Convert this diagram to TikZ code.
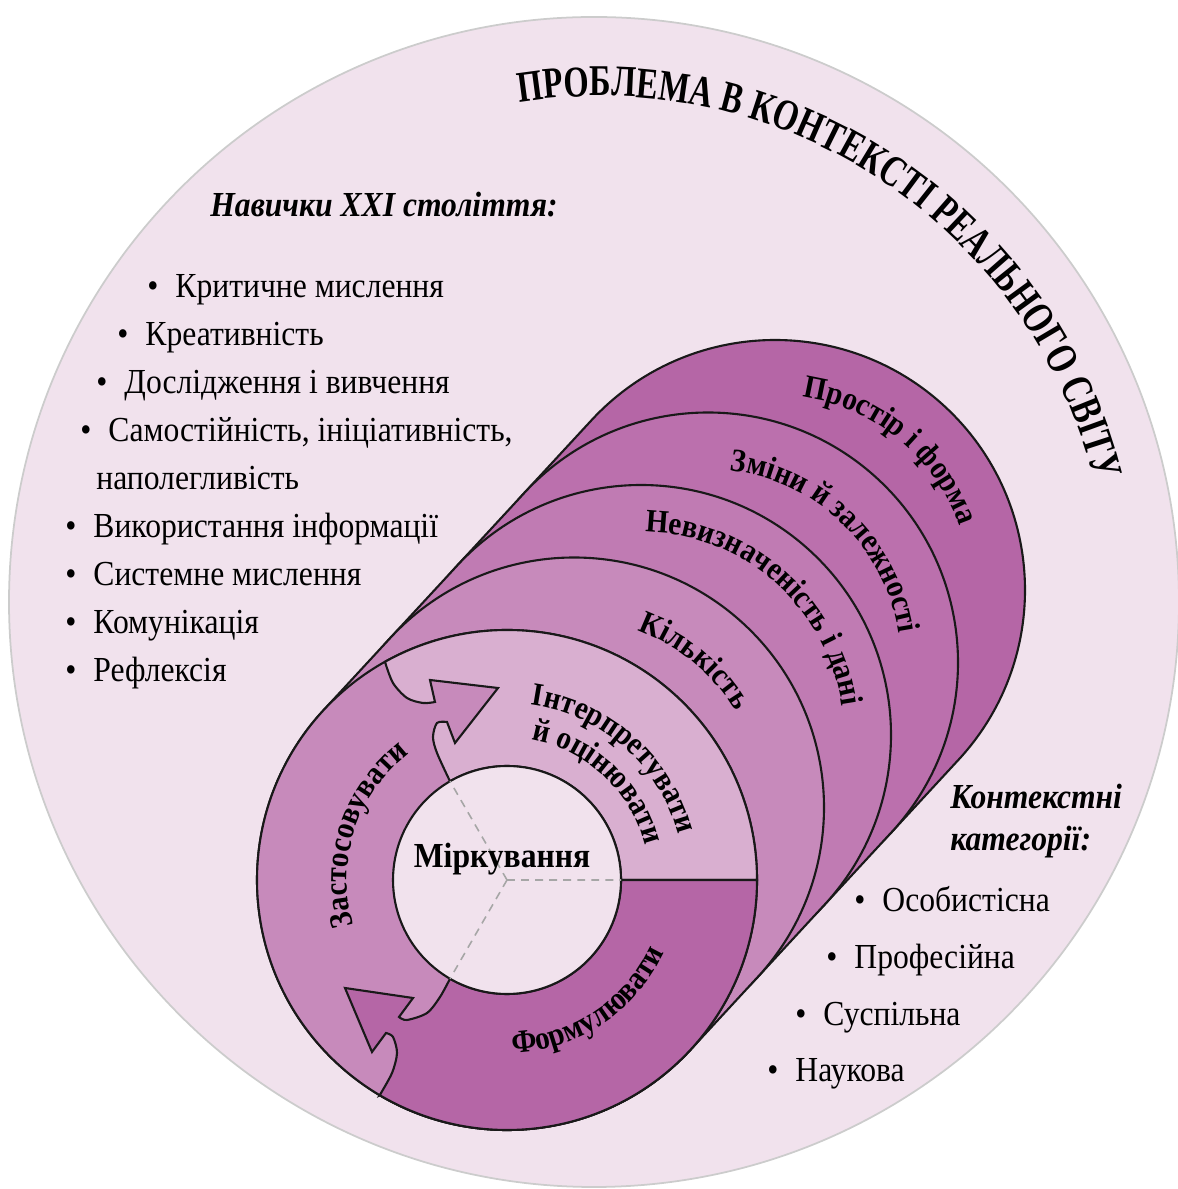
\documentclass[tikz,border=0pt]{standalone}
\usepackage{fontspec}
\setmainfont{Liberation Serif}[FakeStretch=0.9]
\newfontfamily\titlefont{Liberation Serif}[FakeStretch=0.74]
\usetikzlibrary{positioning, decorations.text, calc}

\definecolor{bgpink}{HTML}{F1E2ED}
\definecolor{interp}{HTML}{D9AFD0}
\definecolor{apply}{HTML}{C78ABB}
\definecolor{nevyzn}{HTML}{C07BB3}
\definecolor{zminy}{HTML}{BB70AD}
\definecolor{prostir}{HTML}{B566A6}

\newcommand{\labfont}{\fontsize{18.5}{18.5}\selectfont\bfseries}
\newcommand{\bulletmark}{\makebox[0.8em][l]{\textbullet}}

\tikzset{
    ring/.style={draw=black!90, line width=1.2pt}, % outline of every disc
    skill/.style={anchor=base west, inner sep=0pt, font=\fontsize{20}{24}\selectfont}, % list entries
    heading/.style={anchor=base west, inner sep=0pt, font=\fontsize{20}{24}\selectfont\bfseries\itshape}, % list titles
    curved/.style={decorate, decoration={text along path, text align=center, text={#1}}}, % text set along an arc
}

\begin{document}
\begin{tikzpicture}[x=0.02cm, y=0.02cm]
\useasboundingbox (0,0) rectangle (1177,1189);
% the real world
\filldraw[fill=bgpink, draw=black!20, line width=1pt] (594,587) circle[radius=585];
\coordinate (w) at (600,583);
\path[curved={|\titlefont\bfseries\fontsize{25}{25}\selectfont|ПРОБЛЕМА В КОНТЕКСТІ РЕАЛЬНОГО СВІТУ}]
    ($(w)+(110.6:510)$) arc[start angle=110.6, end angle=2.6, radius=510];

% skills
\node[heading] (skills) at (210,972) {Навички XXI століття:};
\node[skill] (s1) at (147,891) {\bulletmark Критичне мислення};
\node[skill] (s2) at (117,843) {\bulletmark Креативність};
\node[skill] (s3) at (96,795) {\bulletmark Дослідження і вивчення};
\node[skill] (s4) at (80,747) {\bulletmark Самостійність, ініціативність,};
\node[skill] (s4b) at (96,699) {наполегливість};
\node[skill] (s5) at (65,651) {\bulletmark Використання інформації};
\node[skill] (s6) at (65,603) {\bulletmark Системне мислення};
\node[skill] (s7) at (65,555) {\bulletmark Комунікація};
\node[skill] (s8) at (65,507) {\bulletmark Рефлексія};

% context categories
\node[heading] (ctx) at (950,380) {Контекстні};
\node[heading] (ctxb) at (950,338) {категорії:};
\node[skill] (k1) at (854,277) {\bulletmark Особистісна};
\node[skill] (k2) at (826,220) {\bulletmark Професійна};
\node[skill] (k3) at (795,163) {\bulletmark Суспільна};
\node[skill] (k4) at (767,107) {\bulletmark Наукова};

% content layers, back to front
\coordinate (c0) at (507,309);
\coordinate (c1) at (574,381.5);
\coordinate (c2) at (641,454);
\coordinate (c3) at (708,526.5);
\coordinate (c4) at (775,599);
\filldraw[ring, fill=prostir] ($(c4)+(137.26:250)$) arc[start angle=137.26, end angle=-42.74, radius=250]
    -- ($(c3)+(-42.74:250)$) arc[start angle=-42.74, end angle=-222.74, radius=250] -- cycle;
\filldraw[ring, fill=zminy] ($(c3)+(137.26:250)$) arc[start angle=137.26, end angle=-42.74, radius=250]
    -- ($(c2)+(-42.74:250)$) arc[start angle=-42.74, end angle=-222.74, radius=250] -- cycle;
\filldraw[ring, fill=nevyzn] ($(c2)+(137.26:250)$) arc[start angle=137.26, end angle=-42.74, radius=250]
    -- ($(c1)+(-42.74:250)$) arc[start angle=-42.74, end angle=-222.74, radius=250] -- cycle;
\filldraw[ring, fill=apply] ($(c1)+(137.26:250)$) arc[start angle=137.26, end angle=-42.74, radius=250]
    -- ($(c0)+(-42.74:250)$) arc[start angle=-42.74, end angle=-222.74, radius=250] -- cycle;
\path[curved={|\labfont|Простір і форма}] ($(c4)+(120:195)$) arc[start angle=120, end angle=-19, radius=195];
\path[curved={|\labfont|Зміни й залежності}] ($(c3)+(126:193)$) arc[start angle=126, end angle=-34, radius=193];
\path[curved={|\labfont|Невизначеність і дані}] ($(c2)+(138:203)$) arc[start angle=138, end angle=-41, radius=203];
\path[curved={|\labfont|Кількість}] ($(c1)+(110:188)$) arc[start angle=110, end angle=-9, radius=188];

% front disc: the modelling cycle
\filldraw[ring, fill=apply] (c0) circle[radius=250];
\filldraw[ring, fill=interp] (621,309) -- (757,309) arc[start angle=0, end angle=119.2, radius=250]
    -- plot[smooth] coordinates {(385,527) (393,506) (407,491) (423,486) (435,487)}
    -- (430,509) -- (498,501) -- (455,446)
    -- plot[smooth] coordinates {(447,467) (437,466) (433,452) (437,436) (450,407.7)}
    arc[start angle=120, end angle=0, radius=114] -- cycle;
\filldraw[ring, fill=prostir] (621,309) -- (757,309) arc[start angle=0, end angle=-120.6, radius=250]
    -- plot[smooth] coordinates {(379.7,93.8) (392,116) (397,136) (393,152) (386,156)}
    -- (372,137) -- (345,201) -- (413,191)
    -- plot[smooth] coordinates {(399,172) (407,169) (427,176) (440,192) (450,210.3)}
    arc[start angle=240, end angle=360, radius=114] -- cycle;
\filldraw[ring, fill=bgpink] (c0) circle[radius=114];
\draw[black!35, dash pattern=on 4.5pt off 3.5pt, line width=0.9pt]
    (c0) -- +(0:114) (c0) -- +(120:114) (c0) -- +(240:114);
\node[anchor=base, inner sep=0pt, font=\fontsize{20}{20}\selectfont\bfseries] (mirk) at (502,321) {Міркування};
\path[curved={|\labfont|Застосовувати}] ($(c0)+(232:160)$) arc[start angle=232, end angle=92, radius=160];
\path[curved={|\labfont|Інтерпретувати}] ($(c0)+(118:177)$) arc[start angle=118, end angle=-21, radius=177];
\path[curved={|\labfont|й оцінювати}] ($(c0)+(117:142)$) arc[start angle=117, end angle=-23, radius=142];
\path[curved={|\labfont|Формулювати}] ($(c0)+(233.5:173)$) arc[start angle=233.5, end angle=373.5, radius=173];
\end{tikzpicture}
\end{document}
